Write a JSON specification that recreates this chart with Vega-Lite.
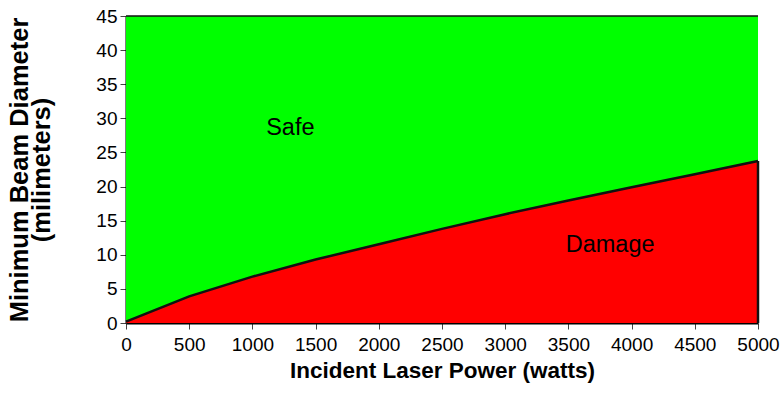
{
  "$schema": "https://vega.github.io/schema/vega-lite/v6.json",
  "width": 632,
  "height": 307,
  "autosize": {"type": "none"},
  "padding": {"left": 126, "top": 16, "right": 24, "bottom": 86},
  "background": "white",
  "config": {
    "view": {"stroke": null},
    "font": "Liberation Sans",
    "axis": {
      "grid": false,
      "labelFont": "Liberation Sans",
      "labelFontSize": 19,
      "labelColor": "black",
      "labelOverlap": false,
      "labelFlush": false,
      "format": "d",
      "titleFont": "Liberation Sans",
      "titleFontWeight": "bold",
      "titleColor": "black",
      "domainColor": "black",
      "domainWidth": 2,
      "tickColor": "#444",
      "tickSize": 6,
      "tickWidth": 1
    }
  },
  "datasets": {
    "curve": [
      {"power": 0, "diameter": 0.2, "limit": 45},
      {"power": 500, "diameter": 3.9, "limit": 45},
      {"power": 1000, "diameter": 6.8, "limit": 45},
      {"power": 1500, "diameter": 9.3, "limit": 45},
      {"power": 2000, "diameter": 11.55, "limit": 45},
      {"power": 2500, "diameter": 13.8, "limit": 45},
      {"power": 3000, "diameter": 15.95, "limit": 45},
      {"power": 3500, "diameter": 17.95, "limit": 45},
      {"power": 4000, "diameter": 19.9, "limit": 45},
      {"power": 4500, "diameter": 21.8, "limit": 45},
      {"power": 5000, "diameter": 23.75, "limit": 45}
    ],
    "edge": [
      {"power": 5000, "low": 0, "high": 23.75}
    ],
    "labels": [
      {"power": 1300, "diameter": 28.6, "label": "Safe"},
      {"power": 3830, "diameter": 11.4, "label": "Damage"}
    ]
  },
  "encoding": {
    "x": {
      "field": "power", "type": "quantitative",
      "scale": {"domain": [0, 5000], "nice": false},
      "axis": {
        "values": [0, 500, 1000, 1500, 2000, 2500, 3000, 3500, 4000, 4500, 5000],
        "labelPadding": 6,
        "labelOverlap": false,
        "title": "Incident Laser Power (watts)",
        "titleFontSize": 22.5,
        "titlePadding": 5
      }
    },
    "y": {
      "field": "limit", "type": "quantitative",
      "scale": {"domain": [0, 45], "nice": false},
      "axis": {
        "values": [0, 5, 10, 15, 20, 25, 30, 35, 40, 45],
        "labelPadding": 3,
        "labelOverlap": false,
        "title": ["Minimum Beam Diameter", "(milimeters)"],
        "titleFontSize": 25.5,
        "titleLineHeight": 22,
        "titlePadding": 41
      }
    }
  },
  "layer": [
    {
      "data": {"name": "curve"},
      "mark": {"type": "area", "color": "#00FF00"}
    },
    {
      "data": {"name": "curve"},
      "mark": {"type": "line", "color": "#111", "strokeWidth": 1.5}
    },
    {
      "data": {"name": "curve"},
      "mark": {"type": "area", "color": "#FF0000"},
      "encoding": {
        "y": {"field": "diameter", "type": "quantitative"}
      }
    },
    {
      "data": {"name": "curve"},
      "mark": {"type": "line", "color": "#111", "strokeWidth": 2.5},
      "encoding": {
        "y": {"field": "diameter", "type": "quantitative"}
      }
    },
    {
      "data": {"name": "edge"},
      "mark": {"type": "rule", "color": "#111", "strokeWidth": 2.5},
      "encoding": {
        "y": {"field": "low", "type": "quantitative"},
        "y2": {"field": "high"}
      }
    },
    {
      "data": {"name": "labels"},
      "mark": {"type": "text", "fontSize": 23.5, "font": "Liberation Sans", "color": "black", "align": "center", "baseline": "middle"},
      "encoding": {
        "y": {"field": "diameter", "type": "quantitative"},
        "text": {"field": "label"}
      }
    }
  ]
}
